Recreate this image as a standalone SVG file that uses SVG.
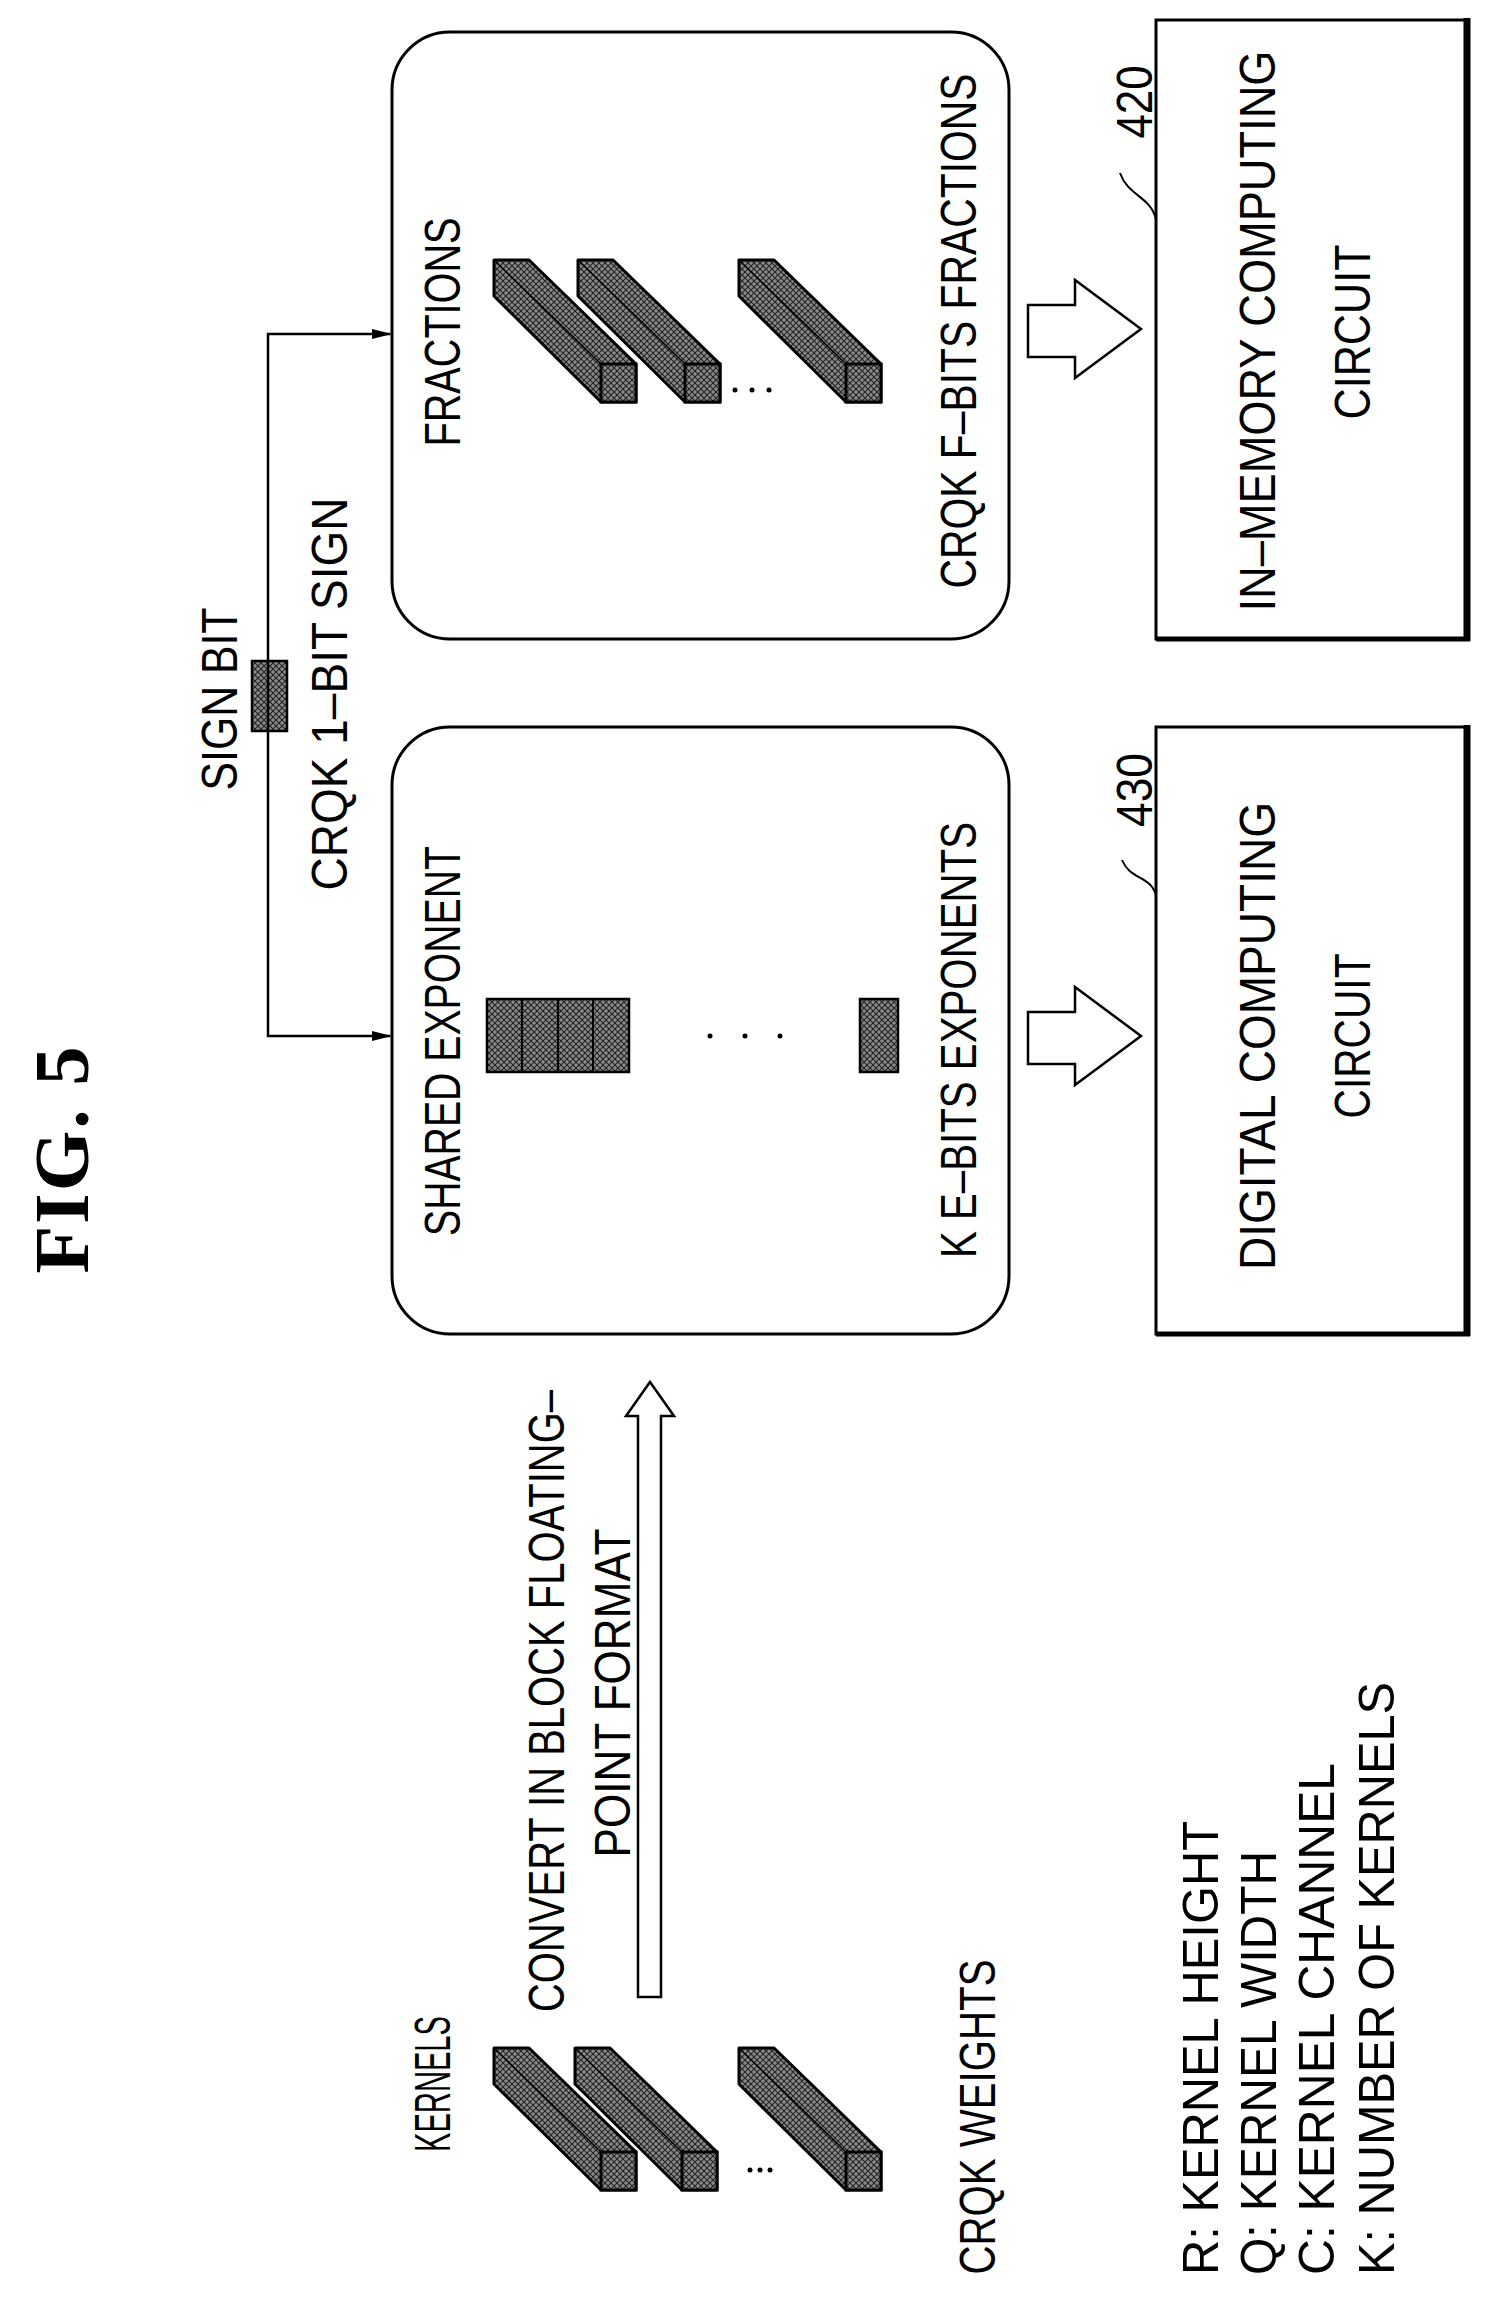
<svg xmlns="http://www.w3.org/2000/svg" width="1498" height="2307" viewBox="0 0 1498 2307">
<defs>
<pattern id="hatch" width="6" height="6" patternUnits="userSpaceOnUse">
<rect width="6" height="6" fill="#8a8a8a"/>
<path d="M0,6 L6,0 M0,0 L6,6" stroke="#222" stroke-width="1.1"/>
</pattern>
<g id="bar">
<path d="M0,0 L35,0 L142,104 L142,142 L107,142 L0,36 Z" fill="url(#hatch)" stroke="#000" stroke-width="3" stroke-linejoin="round"/>
<rect x="107" y="104" width="35" height="38" fill="url(#hatch)" stroke="#000" stroke-width="3"/>
<line x1="0" y1="0" x2="107" y2="104" stroke="#000" stroke-width="1.5"/>
</g>
</defs>
<style>
text{font-family:"Liberation Sans",Arial,sans-serif;font-size:50px;fill:#000;text-anchor:middle}
.lg{text-anchor:start}
.fig{font-family:"Liberation Serif","Times New Roman",serif;font-weight:bold;font-size:78px}
.box{fill:#fff;stroke:#000;stroke-width:3}
.hol{fill:#fff;stroke:#000;stroke-width:2.5;stroke-linejoin:miter}
</style>
<rect width="1498" height="2307" fill="#fff"/>

<g id="title"><text class="fig" transform="translate(88,1160) rotate(-90)" textLength="227" lengthAdjust="spacing">FIG. 5</text></g>

<g id="kernels">
<text transform="translate(450,2084) rotate(-90)" textLength="136" lengthAdjust="spacingAndGlyphs">KERNELS</text>
<use href="#bar" x="494" y="2048"/>
<use href="#bar" x="575" y="2048"/>
<use href="#bar" x="739" y="2048"/>
<circle cx="750" cy="2170" r="2.5"/><circle cx="760" cy="2170" r="2.5"/><circle cx="770" cy="2170" r="2.5"/>
<text transform="translate(995,2117) rotate(-90)" textLength="315" lengthAdjust="spacingAndGlyphs">CRQK WEIGHTS</text>
</g>

<g id="convert">
<path class="hol" d="M638,1997 L638,1416 L626,1416 L650,1382 L674,1416 L661,1416 L661,1997 Z"/>
<text transform="translate(564,1701) rotate(-90)" textLength="622" lengthAdjust="spacingAndGlyphs">CONVERT IN BLOCK FLOATING–</text>
<text transform="translate(630,1693) rotate(-90)" textLength="329" lengthAdjust="spacingAndGlyphs">POINT FORMAT</text>
</g>

<g id="legend">
<text class="lg" transform="translate(1218,2275) rotate(-90)" textLength="454" lengthAdjust="spacingAndGlyphs">R: KERNEL HEIGHT</text>
<text class="lg" transform="translate(1276,2275) rotate(-90)" textLength="424" lengthAdjust="spacingAndGlyphs">Q: KERNEL WIDTH</text>
<text class="lg" transform="translate(1334,2275) rotate(-90)" textLength="512" lengthAdjust="spacingAndGlyphs">C: KERNEL CHANNEL</text>
<text class="lg" transform="translate(1394,2275) rotate(-90)" textLength="593" lengthAdjust="spacingAndGlyphs">K: NUMBER OF KERNELS</text>
</g>

<g id="exponent">
<rect class="box" x="392" y="727" width="617" height="607" rx="58"/>
<text transform="translate(460,1041) rotate(-90)" textLength="390" lengthAdjust="spacingAndGlyphs">SHARED EXPONENT</text>
<rect x="487" y="999" width="142" height="73" fill="url(#hatch)" stroke="#000" stroke-width="2.5"/>
<line x1="522" y1="999" x2="522" y2="1072" stroke="#000" stroke-width="2"/>
<line x1="558" y1="999" x2="558" y2="1072" stroke="#000" stroke-width="2"/>
<line x1="593" y1="999" x2="593" y2="1072" stroke="#000" stroke-width="2"/>
<circle cx="710" cy="1036" r="2.5"/><circle cx="745" cy="1036" r="2.5"/><circle cx="780" cy="1036" r="2.5"/>
<rect x="860" y="999" width="38" height="73" fill="url(#hatch)" stroke="#000" stroke-width="2.5"/>
<text transform="translate(976,1040) rotate(-90)" textLength="436" lengthAdjust="spacingAndGlyphs">K E–BITS EXPONENTS</text>
</g>

<g id="fractions">
<rect class="box" x="392" y="32" width="617" height="607" rx="58"/>
<text transform="translate(460,332) rotate(-90)" textLength="229" lengthAdjust="spacingAndGlyphs">FRACTIONS</text>
<use href="#bar" x="494" y="260"/>
<use href="#bar" x="578" y="260"/>
<use href="#bar" x="739" y="260"/>
<circle cx="735" cy="390" r="2.5"/><circle cx="752" cy="390" r="2.5"/><circle cx="769" cy="390" r="2.5"/>
<text transform="translate(976,331) rotate(-90)" textLength="515" lengthAdjust="spacingAndGlyphs">CRQK F–BITS FRACTIONS</text>
</g>

<g id="signbit">
<text transform="translate(237,699) rotate(-90)" textLength="183" lengthAdjust="spacingAndGlyphs">SIGN BIT</text>
<rect x="252" y="661" width="35" height="70" fill="url(#hatch)" stroke="#000" stroke-width="2.5"/>
<text transform="translate(347,694) rotate(-90)" textLength="393" lengthAdjust="spacingAndGlyphs">CRQK 1–BIT SIGN</text>
</g>

<g id="digital">
<rect class="box" x="1156" y="727" width="311" height="607"/>
<line x1="1467" y1="725" x2="1467" y2="1336" stroke="#000" stroke-width="7"/>
<line x1="1156" y1="1334" x2="1470" y2="1334" stroke="#000" stroke-width="5"/>
<text transform="translate(1275,1036) rotate(-90)" textLength="468" lengthAdjust="spacingAndGlyphs">DIGITAL COMPUTING</text>
<text transform="translate(1370,1036) rotate(-90)" textLength="165" lengthAdjust="spacingAndGlyphs">CIRCUIT</text>
<text transform="translate(1152,790) rotate(-90)" textLength="74" lengthAdjust="spacingAndGlyphs">430</text>
<path d="M1156,895 C1150,875 1130,880 1122,860" fill="none" stroke="#000" stroke-width="2"/>
</g>

<g id="inmemory">
<rect class="box" x="1156" y="20" width="311" height="619"/>
<line x1="1467" y1="18" x2="1467" y2="641" stroke="#000" stroke-width="7"/>
<line x1="1156" y1="639" x2="1470" y2="639" stroke="#000" stroke-width="5"/>
<text transform="translate(1275,331) rotate(-90)" textLength="561" lengthAdjust="spacingAndGlyphs">IN–MEMORY COMPUTING</text>
<text transform="translate(1370,332) rotate(-90)" textLength="175" lengthAdjust="spacingAndGlyphs">CIRCUIT</text>
<text transform="translate(1152,102) rotate(-90)" textLength="73" lengthAdjust="spacingAndGlyphs">420</text>
<path d="M1156,219 C1150,196 1128,196 1120,173" fill="none" stroke="#000" stroke-width="2"/>
</g>

<g id="connectors">
<path d="M390,1036 L268,1036 L268,334 L390,334" fill="none" stroke="#000" stroke-width="2.5"/>
<path d="M372,1031 L392,1036 L372,1041 Z" fill="#000"/>
<path d="M372,329 L392,334 L372,339 Z" fill="#000"/>
<path class="hol" d="M1028,1012 L1075,1012 L1075,987 L1141,1036 L1075,1085 L1075,1064 L1028,1064 Z"/>
<path class="hol" d="M1028,305 L1075,305 L1075,280 L1141,329 L1075,378 L1075,357 L1028,357 Z"/>
</g>
</svg>
